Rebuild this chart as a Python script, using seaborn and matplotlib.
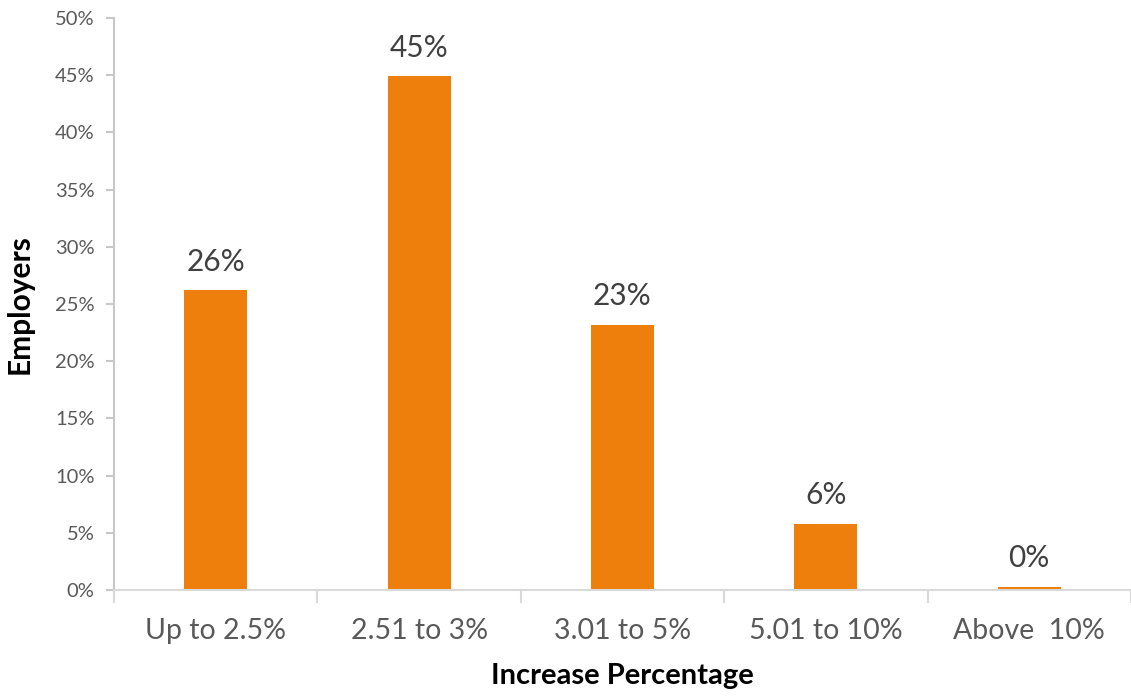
import matplotlib
matplotlib.use("Agg")
import matplotlib.pyplot as plt
import seaborn as sns
import pandas as pd
from matplotlib.ticker import PercentFormatter, FixedLocator

categories = ["Up to 2.5%", "2.51 to 3%", "3.01 to 5%", "5.01 to 10%", "Above  10%"]
shares = [0.262, 0.449, 0.232, 0.058, 0.003]
y_ticks = [0.0, 0.05, 0.10, 0.15, 0.20, 0.25, 0.30, 0.35, 0.40, 0.45, 0.50]

df = pd.DataFrame({"category": categories, "share": shares})

sns.set_theme(style="white")
plt.rcParams["font.family"] = ["Lato", "DejaVu Sans"]

W, H = 1131, 696
fig = plt.figure(figsize=(W / 100, H / 100), dpi=100)
ax = fig.add_axes([114 / W, 106 / H, (1131 - 114) / W, 572 / H])

bar_color = "#EE7F0C"
sns.barplot(data=df, x="category", y="share", color=bar_color, width=0.31,
            saturation=1, ax=ax, edgecolor="none")

ax.set_ylim(0, 0.5)
ax.set_xlim(-0.5, 4.485)
ax.yaxis.set_major_locator(FixedLocator(y_ticks))
ax.yaxis.set_major_formatter(PercentFormatter(1.0, decimals=0))

grey = "#595959"
line_grey = "#C8C8C8"
ax.tick_params(axis="y", which="major", direction="out", length=6, width=1.5,
               color=line_grey, labelsize=14.5, labelcolor=grey, pad=8, left=True)
ax.tick_params(axis="x", which="major", length=0, labelsize=20.5, labelcolor=grey, pad=20)
ax.set_xticks([i - 0.5 for i in range(len(categories) + 1)], minor=True)
ax.tick_params(axis="x", which="minor", direction="out", length=9, width=1.5,
               color="#D9D9D9", bottom=True)

for side in ["top", "right"]:
    ax.spines[side].set_visible(False)
ax.spines["left"].set_color(line_grey)
ax.spines["left"].set_linewidth(1.5)
ax.spines["bottom"].set_color("#D9D9D9")
ax.spines["bottom"].set_linewidth(1.5)

for i, v in enumerate(shares):
    ax.text(i, v + 0.0125, f"{v:.0%}", ha="center", va="bottom",
            fontsize=21.5, color="#404040")

ax.set_xlabel("Increase Percentage", fontsize=21, fontweight="bold",
              color="black", labelpad=14)
ax.set_ylabel("Employers", fontsize=21.5, fontweight="bold", color="black")
ax.yaxis.set_label_coords(-80 / (1131 - 114), 0.5)

fig.savefig("out.png", dpi=100)
